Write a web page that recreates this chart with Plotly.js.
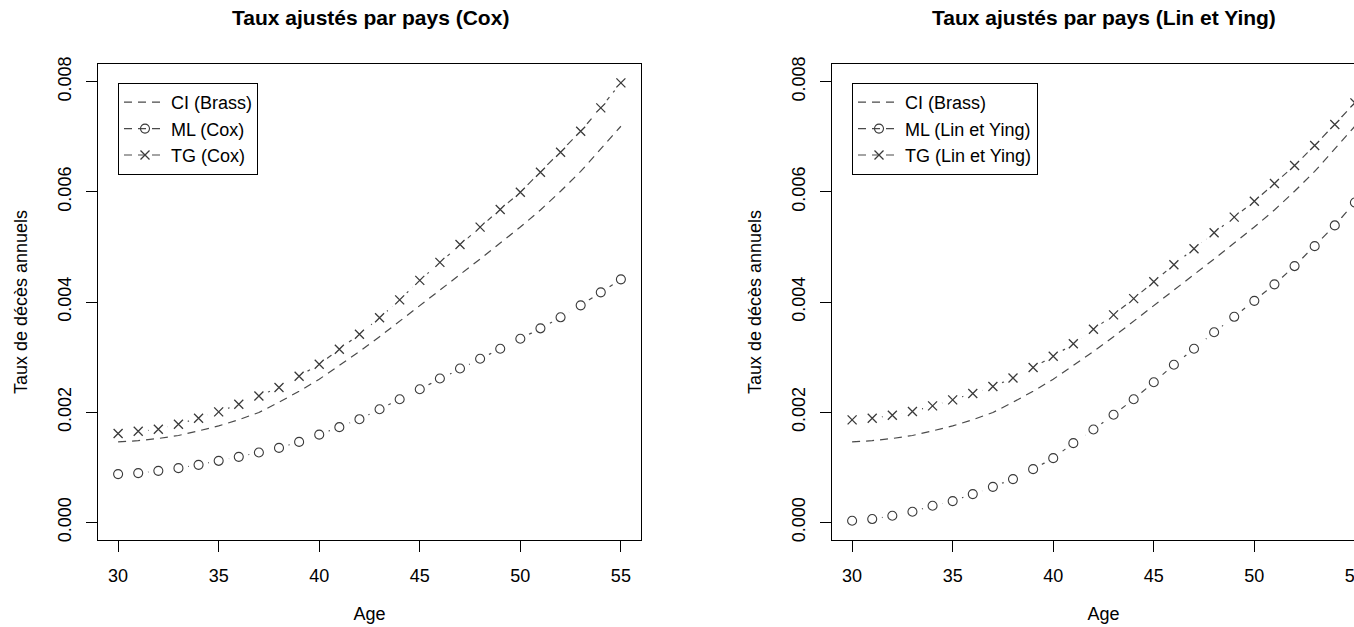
<!DOCTYPE html>
<html>
<head>
<meta charset="utf-8">
<script src="https://cdn.plot.ly/plotly-3.0.1.min.js"></script>
<style>
html,body{margin:0;padding:0;overflow:hidden;background:#fff;}
#chart{width:1400px;height:627px;}
</style>
</head>
<body>
<div id="chart"></div>
<script>
// ---- data ----
const ages = [30,31,32,33,34,35,36,37,38,39,40,41,42,43,44,45,46,47,48,49,50,51,52,53,54,55];
const ciBrass = [0.001461,0.001483,0.001523,0.001577,0.001661,0.001751,0.001864,0.001994,0.002181,0.002380,0.002598,0.002850,0.003100,0.003370,0.003650,0.003940,0.004220,0.004500,0.004780,0.005070,0.005360,0.005670,0.006010,0.006370,0.006770,0.007190];
const mlCox = [0.000876,0.000894,0.000935,0.000984,0.001044,0.001117,0.001189,0.001269,0.001352,0.001461,0.001592,0.001728,0.001873,0.002054,0.002235,0.002417,0.002611,0.002792,0.002969,0.003151,0.003332,0.003522,0.003722,0.003939,0.004175,0.004411];
const tgCox = [0.001613,0.001655,0.001691,0.001782,0.001891,0.002005,0.002145,0.002295,0.002447,0.002652,0.002870,0.003142,0.003414,0.003713,0.004039,0.004393,0.004719,0.005045,0.005359,0.005680,0.005993,0.006356,0.006718,0.007099,0.007523,0.007977];
const mlLinYing = [0.000029,0.000060,0.000120,0.000192,0.000301,0.000386,0.000513,0.000645,0.000785,0.000966,0.001166,0.001438,0.001686,0.001954,0.002235,0.002543,0.002861,0.003151,0.003450,0.003731,0.004021,0.004320,0.004652,0.005014,0.005390,0.005807];
const tgLinYing = [0.001860,0.001891,0.001945,0.002012,0.002114,0.002223,0.002339,0.002465,0.002620,0.002810,0.003015,0.003241,0.003504,0.003767,0.004061,0.004369,0.004677,0.004967,0.005257,0.005540,0.005830,0.006151,0.006477,0.006840,0.007221,0.007614];
const xTickVals = [30,35,40,45,50,55];
const yTickVals = [0,0.002,0.004,0.006,0.008];
const yTickText = ['0.000','0.002','0.004','0.006','0.008'];
const panelTitles = ['Taux ajustés par pays (Cox)','Taux ajustés par pays (Lin et Ying)'];
const namesCox = ['CI (Brass)','ML (Cox)','TG (Cox)'];
const namesLY = ['CI (Brass)','ML (Lin et Ying)','TG (Lin et Ying)'];
const xLabel = 'Age';
const yLabel = 'Taux de décès annuels';

// ---- styling ----
const FONT = '"Liberation Sans", Arial, Helvetica, sans-serif';
const LINE_COL = '#4a4a4a';
const MARK_COL = '#3a3a3a';
const DASH = '8px,6px';

function panel(xa, ya, leg, ml, tg, names) {
  const common = {x: ages, xaxis: xa, yaxis: ya, legend: leg, hoverinfo: 'skip'};
  const circ = {symbol: 'circle-open', size: 9, color: MARK_COL, line: {width: 1.1, color: MARK_COL}};
  const cross = {symbol: 'x-thin-open', size: 9, color: MARK_COL, line: {width: 1.3, color: MARK_COL}};
  const mask = {symbol: 'circle', size: 20, color: '#ffffff', line: {width: 0}};
  return [
    Object.assign({}, common, {y: ml, type: 'scatter', mode: 'lines+markers', name: names[1], legendrank: 2,
      line: {color: LINE_COL, width: 1.2, dash: DASH}, marker: circ}),
    Object.assign({}, common, {y: ml, type: 'scatter', mode: 'markers', showlegend: false, marker: mask}),
    Object.assign({}, common, {y: tg, type: 'scatter', mode: 'lines+markers', name: names[2], legendrank: 3,
      line: {color: LINE_COL, width: 1.2, dash: DASH}, marker: cross}),
    Object.assign({}, common, {y: tg, type: 'scatter', mode: 'markers', showlegend: false, marker: mask}),
    Object.assign({}, common, {y: ciBrass, type: 'scatter', mode: 'lines', name: names[0], legendrank: 1,
      line: {color: LINE_COL, width: 1.2, dash: DASH}}),
    Object.assign({}, common, {y: ml, type: 'scatter', mode: 'markers', showlegend: false, marker: circ}),
    Object.assign({}, common, {y: tg, type: 'scatter', mode: 'markers', showlegend: false, marker: cross})
  ];
}

const traces = [].concat(
  panel('x', 'y', 'legend', mlCox, tgCox, namesCox),
  panel('x2', 'y2', 'legend2', mlLinYing, tgLinYing, namesLY)
);

// geometry (px) : plot boxes 98..641 and 832..1375, top 64, bottom 540
const W = 1400, H = 627;
const ML = 98, MR = W - 1375, MT = 64, MB = H - 540;
const innerW = W - ML - MR;   // 1277
const innerH = H - MT - MB;   // 476

function axisX(domain, anchor) {
  return {
    domain: domain, anchor: anchor, range: [29, 56],
    tickmode: 'array', tickvals: xTickVals,
    ticks: 'outside', ticklen: 11, tickwidth: 1, tickcolor: '#000',
    showline: true, mirror: true, linecolor: '#000', linewidth: 1,
    showgrid: false, zeroline: false,
    tickfont: {size: 18, color: '#000'}, ticklabelstandoff: 8,
    title: {text: xLabel, standoff: 22, font: {size: 18, color: '#000'}}
  };
}
function axisY(anchor) {
  return {
    domain: [0, 1], anchor: anchor, range: [-0.00032, 0.00832],
    tickmode: 'array', tickvals: yTickVals, ticktext: yTickText, tickangle: -90,
    ticks: 'outside', ticklen: 11, tickwidth: 1, tickcolor: '#000',
    showline: true, mirror: true, linecolor: '#000', linewidth: 1,
    showgrid: false, zeroline: false,
    tickfont: {size: 18, color: '#000'}, ticklabelstandoff: 8,
    title: {text: yLabel, standoff: 22, font: {size: 18, color: '#000'}}
  };
}
function legendCfg(xpx) {
  return {
    x: (xpx - ML) / innerW, y: 1 - (83 - MT) / innerH, xanchor: 'left', yanchor: 'top',
    bgcolor: '#fff', bordercolor: '#000', borderwidth: 1, itemwidth: 42,
    font: {size: 18, color: '#000', family: FONT}, traceorder: 'normal', tracegroupgap: 0
  };
}

const layout = {
  width: W, height: H,
  margin: {l: ML, r: MR, t: MT, b: MB, autoexpand: false},
  paper_bgcolor: '#fff', plot_bgcolor: '#fff',
  font: {family: FONT, size: 18, color: '#000'},
  showlegend: true, hovermode: false,
  xaxis: axisX([0, 543 / innerW], 'y'),
  xaxis2: axisX([(832 - ML) / innerW, 1], 'y2'),
  yaxis: axisY('x'),
  yaxis2: axisY('x2'),
  legend: legendCfg(118),
  legend2: legendCfg(852),
  annotations: [
    {xref: 'paper', yref: 'paper', x: (370 - ML) / innerW, y: 1 + (MT - 18) / innerH,
     xanchor: 'center', yanchor: 'middle', showarrow: false, text: panelTitles[0],
     font: {size: 21, weight: 'bold', color: '#000', family: FONT}},
    {xref: 'paper', yref: 'paper', x: (1103.5 - ML) / innerW, y: 1 + (MT - 18) / innerH,
     xanchor: 'center', yanchor: 'middle', showarrow: false, text: panelTitles[1],
     font: {size: 21, weight: 'bold', color: '#000', family: FONT}}
  ]
};

Plotly.newPlot('chart', traces, layout, {staticPlot: true, displayModeBar: false});
</script>
</body>
</html>
